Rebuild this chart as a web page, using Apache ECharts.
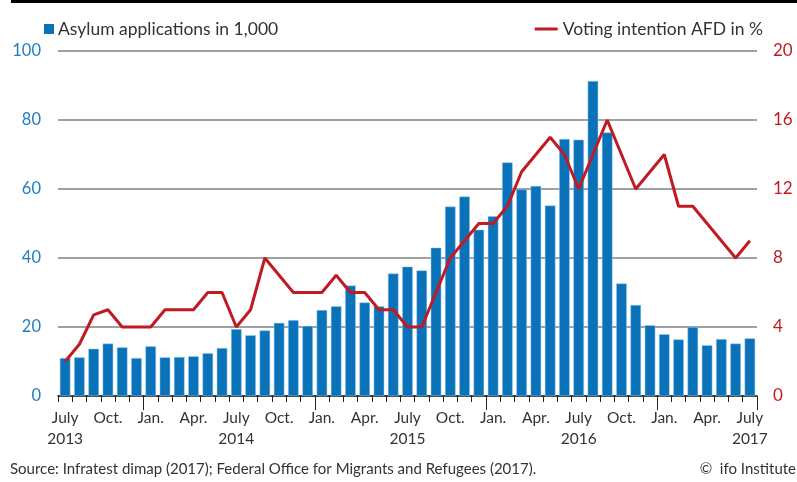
<!DOCTYPE html>
<html>
<head>
<meta charset="utf-8">
<script src="https://cdn.jsdelivr.net/npm/echarts@6/dist/echarts.min.js"></script>
<style>
html,body{margin:0;padding:0;background:#fff;}
#chart{width:797px;height:482px;}
</style>
</head>
<body>
<div id="chart"></div>
<script>
// Monthly categories, July 2013 .. July 2017
const categories = [
  '2013-07','2013-08','2013-09','2013-10','2013-11','2013-12',
  '2014-01','2014-02','2014-03','2014-04','2014-05','2014-06','2014-07','2014-08','2014-09','2014-10','2014-11','2014-12',
  '2015-01','2015-02','2015-03','2015-04','2015-05','2015-06','2015-07','2015-08','2015-09','2015-10','2015-11','2015-12',
  '2016-01','2016-02','2016-03','2016-04','2016-05','2016-06','2016-07','2016-08','2016-09','2016-10','2016-11','2016-12',
  '2017-01','2017-02','2017-03','2017-04','2017-05','2017-06','2017-07'
];
// Asylum applications in 1,000
const asylumApplications = [
  11.0, 11.2, 13.7, 15.2, 14.1, 11.0,
  14.4, 11.2, 11.3, 11.5, 12.4, 13.9, 19.4, 17.6, 19.0, 21.2, 22.0, 20.3,
  24.9, 26.0, 32.0, 27.1, 26.0, 35.5, 37.5, 36.4, 43.0, 54.9, 57.8, 48.2,
  52.1, 67.7, 59.9, 60.9, 55.2, 74.5, 74.3, 91.3, 76.4, 32.6, 26.4, 20.5,
  17.9, 16.4, 20.0, 14.7, 16.5, 15.2, 16.7
];
// Voting intention AFD in %
const votingAfd = [
  2, 3, 4.7, 5, 4, 4,
  4, 5, 5, 5, 6, 6, 4, 5, 8, 7, 6, 6,
  6, 7, 6, 6, 5, 5, 4, 4, 6, 8, 9, 10,
  10, 11, 13, 14, 15, 14, 12, 14, 16, 14, 12, 13,
  14, 11, 11, 10, 9, 8, 9
];
// Tick labels
const monthTickLabels = { '01': 'Jan.', '04': 'Apr.', '07': 'July', '10': 'Oct.' };
const leftTicks = [0, 20, 40, 60, 80, 100];
const rightTicks = [0, 4, 8, 12, 16, 20];

const seriesNames = ['Asylum applications in 1,000', 'Voting intention AFD in %'];
const FONT = 'Lato';
const BLUE = '#0a72b9';
const RED = '#c01b22';

const chart = echarts.init(document.getElementById('chart'), null, { renderer: 'canvas' });

function monthOf(v) { return v.split('-')[1]; }
function yearOf(v) { return v.split('-')[0]; }

const option = {
  animation: false,
  backgroundColor: '#ffffff',
  textStyle: { fontFamily: FONT },
  grid: { left: 58, right: 40, top: 51, bottom: 86, containLabel: false },
  legend: [
    {
      data: [{ name: seriesNames[0], icon: 'rect', itemStyle: { borderWidth: 0, color: BLUE } }],
      left: 44, top: 20, padding: 0,
      itemWidth: 10, itemHeight: 10, itemGap: 5,
      textStyle: { fontFamily: FONT, fontSize: 17.5, color: '#333', padding: [0, 0, 0, -1] }
    },
    {
      data: [{ name: seriesNames[1], icon: 'rect', itemStyle: { borderWidth: 0, color: RED } }],
      right: 34, top: 20, padding: 0,
      itemWidth: 23, itemHeight: 3, itemGap: 5,
      textStyle: { fontFamily: FONT, fontSize: 17.5, color: '#333' }
    }
  ],
  xAxis: [
    {
      type: 'category',
      data: categories,
      boundaryGap: true,
      axisLine: { show: true, lineStyle: { color: '#222', width: 1.5 } },
      axisTick: { show: true, interval: 0, length: 6, lineStyle: { color: '#222', width: 1 } },
      axisLabel: {
        interval: function (idx, v) { return monthTickLabels[monthOf(v)] !== undefined; },
        formatter: function (v) {
          const m = monthOf(v);
          const t = monthTickLabels[m] || '';
          return m === '07' ? t + '\n' + yearOf(v) : t;
        },
        fontFamily: FONT, fontSize: 15.5, color: '#333', margin: 11, lineHeight: 21
      },
      splitLine: { show: false }
    },
    {
      type: 'category',
      data: categories,
      boundaryGap: true,
      position: 'bottom',
      axisLine: { show: false },
      axisTick: {
        show: true, length: 14,
        interval: function (idx, v) { return monthOf(v) === '01'; },
        lineStyle: { color: '#222', width: 1 }
      },
      axisLabel: { show: false },
      splitLine: { show: false }
    }
  ],
  yAxis: [
    {
      type: 'value', min: leftTicks[0], max: leftTicks[leftTicks.length - 1], interval: 20,
      axisLine: { show: false }, axisTick: { show: false },
      axisLabel: { fontFamily: FONT, fontSize: 16.5, color: '#1f7ec2', margin: 17 },
      splitLine: {
        show: true,
        lineStyle: { color: '#808080', width: 1.5 }
      }
    },
    {
      type: 'value', min: rightTicks[0], max: rightTicks[rightTicks.length - 1], interval: 4,
      position: 'right',
      axisLine: { show: false }, axisTick: { show: false },
      axisLabel: { fontFamily: FONT, fontSize: 17, color: RED, margin: 16 },
      splitLine: { show: false }
    }
  ],
  series: [
    {
      name: seriesNames[0],
      type: 'bar',
      xAxisIndex: 0, yAxisIndex: 0,
      data: asylumApplications,
      barCategoryGap: '26%',
      itemStyle: { color: BLUE, borderColor: '#9ccbec', borderWidth: 0.5 },
      z: 2
    },
    {
      name: seriesNames[1],
      type: 'line',
      xAxisIndex: 0, yAxisIndex: 1,
      data: votingAfd,
      symbol: 'none',
      lineStyle: { color: RED, width: 3 },
      itemStyle: { color: RED },
      z: 3
    }
  ],
  graphic: [
    {
      type: 'rect', left: 11, top: 0,
      shape: { width: 786, height: 3 },
      style: { fill: '#000' }
    },
    {
      type: 'text', left: 10, top: 462,
      style: {
        text: 'Source: Infratest dimap (2017); Federal Office for Migrants and Refugees (2017).',
        font: '15px ' + FONT, fill: '#333'
      }
    },
    {
      type: 'text', right: 1, top: 462,
      style: { text: '©  ifo Institute', font: '15px ' + FONT, fill: '#333' }
    }
  ]
};
chart.setOption(option);
</script>
</body>
</html>
